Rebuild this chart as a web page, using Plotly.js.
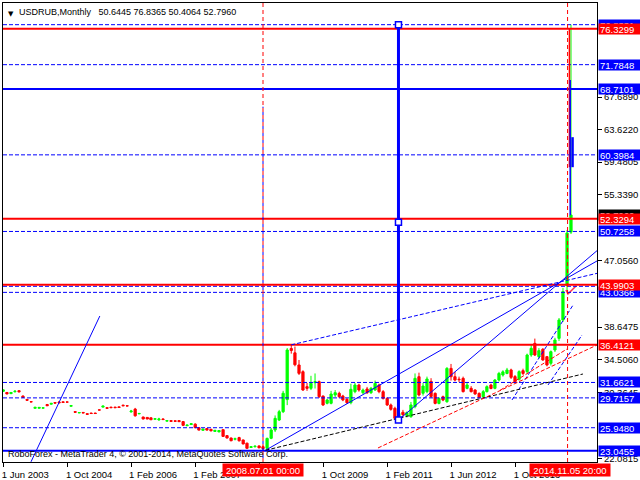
<!DOCTYPE html>
<html>
<head>
<meta charset="utf-8">
<script src="https://cdn.plot.ly/plotly-3.0.1.min.js"></script>
<style>
html,body{margin:0;padding:0;background:#fff;}
#chart{width:640px;height:480px;}
</style>
</head>
<body>
<div id="chart"></div>
<script>
// ---------- DATA: USDRUB monthly bars ----------
const months = [
 '2003-02-01','2003-03-01','2003-04-01','2003-05-01','2003-06-01','2003-07-01','2003-08-01','2003-09-01','2003-10-01','2003-11-01','2003-12-01',
 '2004-01-01','2004-02-01','2004-03-01','2004-04-01','2004-05-01','2004-06-01','2004-07-01','2004-08-01','2004-09-01','2004-10-01','2004-11-01','2004-12-01',
 '2005-01-01','2005-02-01','2005-03-01','2005-04-01','2005-05-01','2005-06-01','2005-07-01','2005-08-01','2005-09-01','2005-10-01','2005-11-01','2005-12-01',
 '2006-01-01','2006-02-01','2006-03-01','2006-04-01','2006-05-01','2006-06-01','2006-07-01','2006-08-01','2006-09-01','2006-10-01','2006-11-01','2006-12-01',
 '2007-01-01','2007-02-01','2007-03-01','2007-04-01','2007-05-01','2007-06-01','2007-07-01','2007-08-01','2007-09-01','2007-10-01','2007-11-01','2007-12-01',
 '2008-01-01','2008-02-01','2008-03-01','2008-04-01','2008-05-01','2008-06-01','2008-07-01','2008-08-01','2008-09-01','2008-10-01','2008-11-01','2008-12-01',
 '2009-01-01','2009-02-01','2009-03-01','2009-04-01','2009-05-01','2009-06-01','2009-07-01','2009-08-01','2009-09-01','2009-10-01','2009-11-01','2009-12-01',
 '2010-01-01','2010-02-01','2010-03-01','2010-04-01','2010-05-01','2010-06-01','2010-07-01','2010-08-01','2010-09-01','2010-10-01','2010-11-01','2010-12-01',
 '2011-01-01','2011-02-01','2011-03-01','2011-04-01','2011-05-01','2011-06-01','2011-07-01','2011-08-01','2011-09-01','2011-10-01','2011-11-01','2011-12-01',
 '2012-01-01','2012-02-01','2012-03-01','2012-04-01','2012-05-01','2012-06-01','2012-07-01','2012-08-01','2012-09-01','2012-10-01','2012-11-01','2012-12-01',
 '2013-01-01','2013-02-01','2013-03-01','2013-04-01','2013-05-01','2013-06-01','2013-07-01','2013-08-01','2013-09-01','2013-10-01','2013-11-01','2013-12-01',
 '2014-01-01','2014-02-01','2014-03-01','2014-04-01','2014-05-01','2014-06-01','2014-07-01','2014-08-01','2014-09-01','2014-10-01','2014-11-01','2014-12-01'
];
const openP = [
 30.55,30.40,30.25,30.50,30.62,29.95,29.52,29.24,28.40,28.41,28.42,
 28.88,28.92,29.12,29.20,29.22,29.20,28.66,27.98,27.82,27.88,27.72,27.80,
 27.80,28.20,28.55,28.48,28.55,28.55,28.58,28.80,28.72,27.95,28.30,27.70,
 27.30,27.25,27.20,27.02,26.95,27.05,26.78,26.85,26.82,26.85,26.72,26.20,
 26.35,26.40,25.95,25.62,25.85,25.75,25.48,25.42,25.70,24.95,24.65,24.50,
 24.70,24.40,24.00,23.45,23.55,23.65,23.55,23.35,24.61,25.66,26.92,27.97,
 29.50,35.95,35.40,33.87,33.02,31.13,30.92,31.63,31.76,29.95,29.03,29.03,
 30.08,30.29,29.95,29.53,29.11,30.50,31.34,30.37,30.84,30.37,30.71,31.34,
 30.50,29.66,28.82,28.40,27.13,27.90,27.50,27.34,28.60,32.39,30.30,30.50,
 31.80,30.29,29.02,29.86,29.23,33.44,32.39,32.08,32.18,30.92,30.92,30.71,
 30.29,29.87,30.50,31.34,30.92,31.97,32.60,32.80,33.24,32.40,32.06,33.15,
 33.03,35.13,36.60,34.92,35.85,34.92,34.08,35.76,37.23,39.55,43.90,50.6445
];
const highP = [
 30.80,30.46,30.45,30.70,30.68,30.02,29.58,29.30,28.58,28.56,28.50,
 28.95,29.08,29.16,29.30,29.26,29.24,28.80,28.02,27.92,27.92,27.76,27.84,
 27.84,28.24,28.72,28.52,28.58,28.58,28.62,28.84,28.76,28.20,28.45,27.78,
 27.34,27.28,27.24,27.12,27.20,27.15,26.88,26.88,26.86,26.90,26.80,26.32,
 26.50,26.50,26.00,25.82,25.90,25.80,25.66,25.64,25.75,25.00,24.70,24.70,
 24.80,24.45,24.05,23.60,23.75,23.70,23.70,24.70,25.90,27.50,28.20,30.60,
 36.00,36.41,36.20,34.50,33.20,31.60,32.50,32.80,31.90,30.00,29.60,30.60,
 30.70,30.50,30.10,29.70,31.50,31.60,31.50,30.90,31.10,31.10,31.90,31.50,
 30.70,29.80,29.00,28.60,28.10,28.20,28.00,29.20,32.80,32.90,31.60,32.40,
 32.20,30.40,29.80,30.00,33.60,34.00,33.00,32.40,32.40,31.60,31.20,30.80,
 30.40,30.70,31.30,31.50,32.10,33.00,33.20,33.50,33.40,32.60,33.20,33.40,
 35.30,36.40,37.20,36.00,36.00,35.00,35.70,37.30,39.80,43.60,50.90,76.8365
];
const lowP = [
 30.48,30.15,30.20,30.38,30.42,29.72,29.36,29.16,28.35,28.36,28.38,
 28.68,28.88,29.02,29.02,29.10,29.15,28.62,27.86,27.78,27.78,27.60,27.70,
 27.70,28.15,28.50,28.36,28.44,28.44,28.46,28.68,28.66,27.85,27.35,27.66,
 27.00,27.02,26.92,26.98,26.80,26.94,26.74,26.72,26.72,26.68,26.15,26.16,
 26.30,25.90,25.60,25.58,25.60,25.50,25.42,25.38,24.80,24.60,24.25,24.35,
 24.20,23.85,23.30,23.40,23.45,23.38,23.05,23.25,24.50,25.40,26.80,27.80,
 28.80,35.30,33.70,32.60,30.60,30.60,30.70,30.90,29.70,28.70,28.90,28.90,
 29.80,29.70,29.30,28.95,28.90,30.30,30.50,30.20,30.20,30.20,30.60,30.30,
 29.50,28.70,28.10,27.05,27.00,27.40,27.25,27.20,28.40,29.90,30.00,30.30,
 29.70,28.90,28.90,29.30,29.10,31.90,31.80,31.70,30.40,30.80,30.40,30.10,
 29.70,29.80,30.40,30.80,30.80,31.80,32.40,32.70,32.10,31.60,31.90,32.60,
 32.80,34.90,35.00,34.70,34.40,33.70,33.80,35.50,36.90,39.30,43.20,50.4064
];
const closeP = [
 30.72,30.22,30.40,30.55,30.48,29.78,29.42,29.21,28.52,28.51,28.46,
 28.72,29.02,29.06,29.10,29.14,29.18,28.74,27.90,27.86,27.82,27.64,27.74,
 27.74,28.18,28.68,28.40,28.48,28.48,28.50,28.72,28.70,28.05,27.45,27.75,
 27.05,27.05,26.95,27.08,27.05,26.98,26.85,26.75,26.76,26.72,26.25,26.28,
 26.45,25.95,25.65,25.78,25.65,25.55,25.62,25.60,24.85,24.65,24.30,24.55,
 24.30,23.90,23.35,23.55,23.60,23.40,23.30,24.60,25.66,27.13,27.97,30.30,
 35.76,35.70,33.90,32.81,30.71,30.92,31.55,31.76,29.87,28.82,29.45,30.20,
 30.37,29.87,29.45,29.11,30.80,31.34,30.71,30.71,30.37,30.92,31.55,30.50,
 29.66,28.82,28.27,27.13,27.76,27.60,27.85,28.82,32.18,30.08,31.21,32.10,
 29.90,29.02,29.65,29.44,33.44,32.39,31.97,32.02,30.50,31.34,30.50,30.21,
 29.78,30.50,31.13,30.90,31.97,32.80,33.00,33.24,32.31,31.76,33.03,32.80,
 35.13,35.97,35.13,35.68,34.50,33.87,35.55,37.02,39.55,43.13,50.53,52.7960
];

// horizontal levels with their right-hand labels
const levelValues = [76.8331, 76.3299, 71.7848, 68.7101, 60.3984, 52.3294, 50.7258, 43.9903, 43.0366, 36.4121, 31.6621, 29.7157, 25.9480, 23.0455];
const levelKinds  = ['bd','r','bd','b','bd','r','bd','r','bd','r','bd','bd','bd','b'];
const unlabeledLevels = [43.80];
const currentPrice = 52.7960;

// axis ticks (the label under the 2008.07.01 box is hidden in the picture)
const yTicks = [22.0815, 30.3645, 34.5060, 38.6475, 47.0560, 55.3390, 59.4805, 63.6220, 67.6890];
const xTickDates = ['2003-02-01','2004-06-01','2005-10-01','2007-02-01','2008-06-01','2009-10-01','2011-02-01','2012-06-01','2013-10-01'];
const xTickText  = ['1 Jun 2003','1 Oct 2004','1 Feb 2006','1 Feb 2007','','1 Oct 2009','1 Feb 2011','1 Jun 2012','1 Oct 2013'];

// drawn objects (anchor points: date, price)
const diagLeft = [['2003-08-31', 21.64], ['2005-02-05', 40.05]];
const lineA  = [['2008-07-20', 23.10], ['2015-06-17', 47.00]];
const lineB  = [['2011-04-28', 26.92], ['2015-06-17', 48.30]];
const lineC  = [['2009-02-01', 36.41], ['2015-06-17', 45.44]];
const lineD1 = [['2013-09-08', 29.45], ['2014-12-17', 41.44]];
const lineD2 = [['2014-06-09', 31.34], ['2015-02-23', 37.65]];
const lineE  = [['2008-07-20', 23.10], ['2015-03-02', 32.73]];
const lineF  = [['2010-11-23', 23.39], ['2015-06-17', 36.39]];
const lineG  = [['2013-06-09', 30.67], ['2014-11-01', 35.89]];
const bigVertical = [['2011-04-28', 26.92], ['2011-04-28', 76.8331]];
const bigVerticalMid = 51.88;
const vLineDates = ['2008-07-01', '2014-11-05'];
const vLineLabels = ['2008.07.01 00:00', '2014.11.05 20:00'];
const blueDashVertical = [['2008-07-01', 21.62], ['2008-07-01', 66.48]];
const redVertical  = [['2014-11-19', 58.84], ['2014-11-19', 76.3299]];
const blueVertical = [['2014-11-25', 52.78], ['2014-11-25', 69.85]];
const blueShort    = [['2014-12-13', 58.84], ['2014-12-13', 62.63]];
const checkX = ['2014-10-24', '2014-11-08', '2015-01-08'];
const checkY = [43.34, 42.83, 43.84];

const titleText = 'USDRUB,Monthly\u00A0\u00A0\u00A050.6445 76.8365 50.4064 52.7960';
const footerText = 'RoboForex - MetaTrader 4, \u00A9 2001-2014, MetaQuotes Software Corp.';

// ---------- STYLE ----------
const BLUE = '#0000FF', RED = '#FF0000', GREEN = '#00FF00';
const FONT = 'Liberation Sans, Arial, sans-serif';
const DASH = '4px,2px';
const kindStyle = {
  bd: {color: BLUE, width: 1, dash: DASH},
  b:  {color: BLUE, width: 2, dash: 'solid'},
  r:  {color: RED,  width: 2, dash: 'solid'}
};

const shapes = [];
unlabeledLevels.forEach(v => shapes.push({type:'line', xref:'paper', x0:0, x1:1, yref:'y', y0:v, y1:v, line:kindStyle.bd}));
levelValues.forEach((v, i) => shapes.push({type:'line', xref:'paper', x0:0, x1:1, yref:'y', y0:v, y1:v, line:kindStyle[levelKinds[i]]}));

function seg(p, line) {
  return {type:'line', xref:'x', yref:'y', x0:p[0][0], y0:p[0][1], x1:p[1][0], y1:p[1][1], line:line};
}
shapes.push(seg(diagLeft, {color:BLUE, width:1}));
shapes.push(seg(lineA, {color:BLUE, width:1}));
shapes.push(seg(lineB, {color:BLUE, width:1}));
shapes.push(seg(lineC, {color:BLUE, width:1, dash:DASH}));
shapes.push(seg(lineD1, {color:BLUE, width:1, dash:DASH}));
shapes.push(seg(lineD2, {color:BLUE, width:1, dash:DASH}));
shapes.push(seg(lineE, {color:'#000000', width:1, dash:DASH}));
shapes.push(seg(lineF, {color:RED, width:1, dash:DASH}));
shapes.push(seg(lineG, {color:RED, width:1, dash:DASH}));
vLineDates.forEach(d => shapes.push({type:'line', xref:'x', x0:d, x1:d, yref:'paper', y0:0, y1:1, line:{color:RED, width:1, dash:'4px,3px'}}));
shapes.push(seg(blueDashVertical, {color:BLUE, width:1, dash:'0px,4px,3px,0px'}));
shapes.push(seg(redVertical, {color:RED, width:1.5}));
shapes.push(seg(blueVertical, {color:BLUE, width:1.5}));
shapes.push(seg(blueShort, {color:BLUE, width:2.5}));
shapes.push(seg(bigVertical, {color:BLUE, width:3}));
[bigVertical[0][1], bigVerticalMid, bigVertical[1][1]].forEach(v => shapes.push({
  type:'rect', xref:'x', yref:'y', xsizemode:'pixel', ysizemode:'pixel',
  xanchor:bigVertical[0][0], yanchor:v, x0:-3, x1:3, y0:-3, y1:3,
  fillcolor:'#FFFFFF', line:{color:BLUE, width:1.5}
}));

// ---------- ANNOTATIONS ----------
const annotations = [];
function priceLabel(v, bg) {
  return {xref:'paper', x:1, xanchor:'left', xshift:1, yref:'y', y:v, yanchor:'middle',
    text:v.toFixed(4), showarrow:false, bgcolor:bg, borderpad:1, width:39, height:8, align:'left',
    font:{family:FONT, size:9.5, color:'#FFFFFF'}};
}
annotations.push(priceLabel(currentPrice, '#000000'));
levelValues.forEach((v, i) => { if (levelKinds[i] !== 'r') annotations.push(priceLabel(v, BLUE)); });
levelValues.forEach((v, i) => { if (levelKinds[i] === 'r') annotations.push(priceLabel(v, RED)); });
vLineDates.forEach((d, i) => annotations.push({xref:'x', x:d, xanchor:'center', xshift: i ? 2 : 0,
  yref:'paper', y:0, yanchor:'top', yshift:-1, text:vLineLabels[i], showarrow:false,
  bgcolor:RED, borderpad:1, width:78, height:10, font:{family:FONT, size:9.5, color:'#FFFFFF'}}));
annotations.push({xref:'paper', x:0, xanchor:'left', xshift:3, yref:'paper', y:1, yanchor:'top', yshift:-5,
  text:'\u25BC', showarrow:false, font:{family:'DejaVu Sans', size:7, color:'#000000'}});
annotations.push({xref:'paper', x:0, xanchor:'left', xshift:14, yref:'paper', y:1, yanchor:'top', yshift:-2,
  text:titleText, showarrow:false, font:{family:FONT, size:9, color:'#000000'}});
annotations.push({xref:'paper', x:0, xanchor:'left', xshift:3, yref:'paper', y:0, yanchor:'bottom', yshift:1,
  text:footerText, showarrow:false, font:{family:FONT, size:9, color:'#000000'}});

// ---------- TRACES ----------
const traces = [
  {type:'candlestick', x:months, open:openP, high:highP, low:lowP, close:closeP,
   increasing:{line:{color:GREEN, width:1}, fillcolor:GREEN},
   decreasing:{line:{color:RED, width:1}, fillcolor:RED},
   whiskerwidth:0, hoverinfo:'skip', showlegend:false},
  {type:'scatter', mode:'lines', x:checkX, y:checkY, line:{color:'#FF3050', width:1.5}, hoverinfo:'skip', showlegend:false}
];

const layout = {
  width:640, height:480,
  margin:{l:3, r:43, t:3, b:18, pad:0},
  paper_bgcolor:'#FFFFFF', plot_bgcolor:'#FFFFFF',
  showlegend:false,
  boxgap:0.4, boxgroupgap:0,
  xaxis:{type:'date', range:['2003-01-30','2015-06-17'], showgrid:false, zeroline:false,
    showline:true, linecolor:'#000000', linewidth:1, mirror:true,
    ticks:'outside', ticklen:4, tickcolor:'#000000', tickwidth:1,
    tickmode:'array', tickvals:xTickDates, ticktext:xTickText, ticklabelshift:22,
    tickfont:{family:FONT, size:9.5, color:'#000000'},
    rangeslider:{visible:false}, fixedrange:true},
  yaxis:{side:'right', range:[21.62, 79.57], showgrid:false, zeroline:false,
    showline:true, linecolor:'#000000', linewidth:1, mirror:true,
    ticks:'outside', ticklen:4, tickcolor:'#000000', tickwidth:1,
    tickmode:'array', tickvals:yTicks, ticktext:yTicks.map(v => v.toFixed(4)),
    tickfont:{family:FONT, size:9.5, color:'#000000'}, fixedrange:true},
  shapes:shapes,
  annotations:annotations
};

Plotly.newPlot('chart', traces, layout, {staticPlot:true, displayModeBar:false});
</script>
</body>
</html>
